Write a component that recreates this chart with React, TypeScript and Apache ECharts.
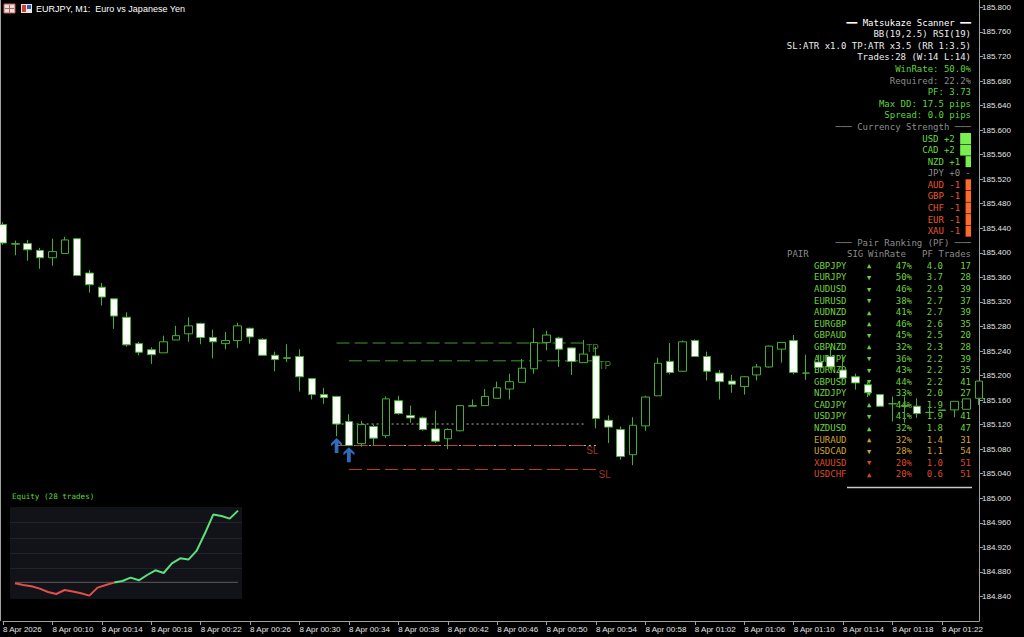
import React, { useEffect, useRef } from 'react';
import * as echarts from 'echarts';

// ---------- data ----------
const TIME_LABELS = [
  '00:06','00:07','00:08','00:09','00:10','00:11','00:12','00:13','00:14','00:15',
  '00:16','00:17','00:18','00:19','00:20','00:21','00:22','00:23','00:24','00:25',
  '00:26','00:27','00:28','00:29','00:30','00:31','00:32','00:33','00:34','00:35',
  '00:36','00:37','00:38','00:39','00:40','00:41','00:42','00:43','00:44','00:45',
  '00:46','00:47','00:48','00:49','00:50','00:51','00:52','00:53','00:54','00:55',
  '00:56','00:57','00:58','00:59','01:00','01:01','01:02','01:03','01:04','01:05',
  '01:06','01:07','01:08','01:09','01:10','01:11','01:12','01:13','01:14','01:15',
  '01:16','01:17','01:18','01:19','01:20','01:21','01:22','01:23','01:24','01:25',
];

const OPEN = [
  185.446,185.414,185.415,185.404,185.392,185.399,185.423,185.367,185.344,185.325,
  185.295,185.252,185.242,185.237,185.258,185.268,185.285,185.262,185.252,185.257,
  185.277,185.259,185.233,185.228,185.231,185.195,185.169,185.166,185.125,185.089,
  185.117,185.102,185.159,185.135,185.131,185.113,185.097,185.110,185.150,185.151,
  185.163,185.178,185.189,185.211,185.254,185.261,185.245,185.221,185.232,185.127,
  185.112,185.071,185.118,185.167,185.223,185.207,185.257,185.231,185.204,185.191,
  185.182,185.201,185.214,185.243,185.257,185.204,185.222,185.231,185.209,185.198,
  185.185,185.169,185.154,185.151,185.150,185.140,185.143,185.144,185.145,185.163,
];
const CLOSE = [
  185.416,185.415,185.405,185.392,185.402,185.421,185.363,185.348,185.328,185.297,
  185.250,185.238,185.234,185.255,185.265,185.281,185.262,185.255,185.257,185.281,
  185.263,185.233,185.226,185.229,185.198,185.169,185.164,185.121,185.086,185.120,
  185.098,185.162,185.138,185.131,185.112,185.093,185.112,185.151,185.151,185.166,
  185.180,185.190,185.212,185.254,185.266,185.243,185.223,185.235,185.130,185.116,
  185.068,185.119,185.165,185.220,185.205,185.255,185.231,185.207,185.190,185.186,
  185.198,185.214,185.248,185.254,185.205,185.204,185.213,185.214,185.196,185.188,
  185.172,185.150,185.154,185.150,185.138,185.140,185.144,185.158,185.162,185.191,
];
const LOW = [
  185.413,185.396,185.387,185.374,185.379,185.399,185.362,185.335,185.314,185.276,
  185.247,185.233,185.219,185.237,185.258,185.255,185.251,185.228,185.243,185.245,
  185.252,185.232,185.207,185.222,185.174,185.161,185.154,185.101,185.085,185.084,
  185.086,185.098,185.136,185.123,185.110,185.090,185.080,185.109,185.150,185.151,
  185.163,185.161,185.189,185.203,185.241,185.214,185.201,185.221,185.114,185.090,
  185.063,185.054,185.110,185.167,185.202,185.206,185.231,185.192,185.161,185.172,
  185.169,185.192,185.213,185.221,185.202,185.193,185.206,185.209,185.190,185.177,
  185.165,185.149,185.125,185.123,185.131,185.133,185.143,185.132,185.145,185.152,
];
const HIGH = [
  185.450,185.420,185.421,185.408,185.423,185.426,185.424,185.372,185.351,185.325,
  185.303,185.255,185.246,185.265,185.281,185.295,185.286,185.275,185.271,185.286,
  185.278,185.261,185.239,185.251,185.243,185.196,185.180,185.167,185.137,185.126,
  185.120,185.166,185.167,185.151,185.133,185.143,185.114,185.152,185.161,185.178,
  185.190,185.203,185.227,185.277,185.273,185.263,185.246,185.258,185.247,185.135,
  185.117,185.132,185.167,185.229,185.253,185.257,185.259,185.239,185.209,185.201,
  185.199,185.219,185.249,185.254,185.266,185.234,185.234,185.247,185.234,185.203,
  185.190,185.170,185.166,185.166,185.163,185.150,185.144,185.158,185.162,185.191,
];

const PRICE_MIN = 184.8;
const PRICE_MAX = 185.812;
const PRICE_STEP = 0.04;

const SIGNAL_BARS = [27, 28];
const SIGNAL_PRICES = [185.086, 185.071];

const LEVEL_KIND = ['TP', 'TP', 'ENTRY', 'SL', 'ENTRY', 'SL'];
const LEVEL_PRICE = [185.253, 185.224, 185.121, 185.086, 185.086, 185.047];
const LEVEL_FROM = [27, 28, 27, 27, 28, 28];
const LEVEL_TO = [47, 48, 47, 47, 48, 48];

const EQUITY = [
  -1, -2.7, -4, -6.3, -9.7, -11.7, -7.7, -9.3, -11, -13.3,
  -5.3, -2.7, -0.3, 1.3, 4.7, 2, 7.3, 12, 9.3, 19,
  24, 22.7, 31.7, 49, 67.7, 66.3, 63.7, 71.7,
];
const EQUITY_RED_UNTIL = 12; // last index of the under-water (red) part

const STATS_LINES = [
  '━━ Matsukaze Scanner ━━',
  'BB(19,2.5) RSI(19)',
  'SL:ATR x1.0 TP:ATR x3.5 (RR 1:3.5)',
  'Trades:28 (W:14 L:14)',
  'WinRate: 50.0%',
  'Required: 22.2%',
  'PF: 3.73',
  'Max DD: 17.5 pips',
  'Spread: 0.0 pips',
  '─── Currency Strength ───',
];
const STATS_KIND = ['head', 'info', 'info', 'info', 'good', 'muted', 'good', 'good', 'good', 'muted'];

const CURRENCIES = ['USD', 'CAD', 'NZD', 'JPY', 'AUD', 'GBP', 'CHF', 'EUR', 'XAU'];
const STRENGTH = [2, 2, 1, 0, -1, -1, -1, -1, -1];

const RANK_TITLE = '─── Pair Ranking (PF) ───';
const RANK_HEADERS = ['PAIR', 'SIG', 'WinRate', 'PF', 'Trades'];
const PAIRS = ['GBPJPY','EURJPY','AUDUSD','EURUSD','AUDNZD','EURGBP','GBPAUD','GBPNZD','AUDJPY','EURNZD',
  'GBPUSD','NZDJPY','CADJPY','USDJPY','NZDUSD','EURAUD','USDCAD','XAUUSD','USDCHF'];
const PAIR_SIG = ['up','down','down','down','up','up','down','up','down','down',
  'down','down','up','down','up','up','down','down','up'];
const PAIR_WR = [47, 50, 46, 38, 41, 46, 45, 32, 36, 43, 44, 33, 44, 41, 32, 32, 28, 20, 20];
const PAIR_PF = [4.0, 3.7, 2.9, 2.7, 2.7, 2.6, 2.5, 2.3, 2.2, 2.2, 2.2, 2.0, 1.9, 1.9, 1.8, 1.4, 1.1, 1.0, 0.6];
const PAIR_TRADES = [17, 28, 39, 37, 39, 35, 20, 28, 39, 35, 41, 27, 18, 41, 47, 31, 54, 51, 51];

// ---------- styles ----------
const CANDLE_GREEN = '#45b030';
const MONO = '"DejaVu Sans Mono", monospace';
const SANS = '"Liberation Sans", Arial, sans-serif';
const C_GOOD = '#5cd43a';
const C_ROW = '#6fd23a';
const C_GOLD = '#d2a22c';
const C_RED = '#dd4a24';
const C_MUTED = '#8c8c8c';
const C_INFO = '#ececec';
const ARROW = 'path://M5,0 L10,5 L10,7.6 L6.7,4.7 L6.7,14 L3.3,14 L3.3,4.7 L0,7.6 L0,5 Z';

const rowY = (k: number) => 22.7 + 11.58 * k;
const CH = 5.42;

function txt(x: number, y: number, text: string, fill: string, align = 'right', font = `9px ${MONO}`) {
  return {
    type: 'text', x, y, silent: true,
    style: { text, fill, font, textAlign: align, textVerticalAlign: 'middle' },
  };
}

function buildGraphics() {
  const g: any[] = [];
  g.push({ type: 'line', silent: true, shape: { x1: 0.5, y1: 0, x2: 0.5, y2: 621 }, style: { stroke: '#a0a0a0', lineWidth: 1 } });
  g.push({ type: 'rect', silent: true, shape: { x: 4, y: 4, width: 11, height: 9 }, style: { fill: '#d9e4f2', stroke: '#d65a3c', lineWidth: 1 } });
  g.push({ type: 'rect', silent: true, shape: { x: 5, y: 8, width: 9, height: 1 }, style: { fill: '#d65a3c' } });
  g.push({ type: 'rect', silent: true, shape: { x: 9, y: 5, width: 1, height: 8 }, style: { fill: '#d65a3c' } });
  g.push({ type: 'rect', silent: true, shape: { x: 21, y: 4, width: 11, height: 9 }, style: { fill: '#e8e8e8' } });
  g.push({ type: 'rect', silent: true, shape: { x: 22, y: 5, width: 4, height: 7 }, style: { fill: '#d83a30' } });
  g.push({ type: 'rect', silent: true, shape: { x: 27, y: 5, width: 4, height: 4 }, style: { fill: '#2f5fb0' } });
  g.push(txt(36, 8.5, 'EURJPY, M1:  Euro vs Japanese Yen', '#ffffff', 'left', `9px ${SANS}`));

  STATS_LINES.forEach((s, k) => {
    const kind = STATS_KIND[k];
    const color = kind === 'head' ? '#ffffff' : kind === 'info' ? C_INFO : kind === 'good' ? C_GOOD : C_MUTED;
    g.push(txt(971, rowY(k), s, color));
  });

  CURRENCIES.forEach((c, i) => {
    const s = STRENGTH[i];
    const y = rowY(10 + i);
    const n = Math.abs(s);
    const color = s > 0 ? '#66dd33' : s < 0 ? '#e8582c' : C_MUTED;
    const label = `${c} ${s < 0 ? '-' : '+'}${n}`;
    const cells = Math.max(n, 1);
    g.push(txt(971 - (cells + 1) * CH, y, label, color));
    if (n > 0) {
      g.push({
        type: 'rect', silent: true,
        shape: { x: 971 - n * CH, y: y - 5.5, width: n * CH, height: 11 },
        style: { fill: s > 0 ? '#78ee50' : '#ff6a2c' },
      });
    } else {
      g.push(txt(968, y, '-', C_MUTED, 'center'));
    }
  });

  g.push(txt(971, rowY(19), RANK_TITLE, C_MUTED));
  const hy = rowY(20);
  g.push(txt(787, hy, RANK_HEADERS[0], C_MUTED, 'left'));
  g.push(txt(847, hy, RANK_HEADERS[1], C_MUTED, 'left'));
  g.push(txt(868, hy, RANK_HEADERS[2], C_MUTED, 'left'));
  g.push(txt(922, hy, RANK_HEADERS[3], C_MUTED, 'left'));
  g.push(txt(971, hy, RANK_HEADERS[4], C_MUTED, 'right'));
  PAIRS.forEach((p, r) => {
    const y = rowY(21 + r);
    const pf = PAIR_PF[r];
    const color = pf >= 1.5 ? C_ROW : pf > 1.0 ? C_GOLD : C_RED;
    g.push(txt(814, y, p, color, 'left'));
    g.push(txt(869, y + 0.5, PAIR_SIG[r] === 'up' ? '▲' : '▼', color, 'center', `7px ${MONO}`));
    g.push(txt(912, y, `${PAIR_WR[r]}%`, color, 'right'));
    g.push(txt(943, y, pf.toFixed(1), color, 'right'));
    g.push(txt(971, y, String(PAIR_TRADES[r]), color, 'right'));
  });
  g.push({ type: 'line', silent: true, shape: { x1: 847, y1: 487.5, x2: 972, y2: 487.5 }, style: { stroke: '#c8c8c8', lineWidth: 1.5 } });

  g.push(txt(12, 496, 'Equity (28 trades)', C_GOOD, 'left', `7.6px ${MONO}`));
  g.push({ type: 'rect', silent: true, shape: { x: 10, y: 507, width: 232, height: 92 }, style: { fill: '#121219' } });
  [1, 2, 3, 4].forEach((k) => {
    const y = Math.round(507 + (92 * k) / 6) + 0.5;
    g.push({ type: 'line', silent: true, shape: { x1: 10, y1: y, x2: 242, y2: y }, style: { stroke: '#22222a', lineWidth: 1 } });
  });
  return g;
}

export default function App() {
  const ref = useRef<HTMLDivElement>(null);

  useEffect(() => {
    if (!ref.current) return;
    const chart = echarts.init(ref.current, undefined, { renderer: 'svg' });

    const candleData = OPEN.map((o, i) => [o, CLOSE[i], LOW[i], HIGH[i]]);
    const levelSeries = LEVEL_PRICE.map((p, i) => {
      const kind = LEVEL_KIND[i];
      const color = kind === 'TP' ? '#3f9a30' : kind === 'SL' ? '#c0452c' : '#b4b4b4';
      const dash = kind === 'ENTRY' ? [2, 3] : [13, 5];
      return {
        type: 'line', xAxisIndex: 0, yAxisIndex: 0, silent: true, z: kind === 'ENTRY' ? 3 : 4,
        data: [[LEVEL_FROM[i], p], [LEVEL_TO[i], p]],
        symbol: 'none',
        lineStyle: { color, width: 1, type: dash },
      };
    });
    const levelLabels = LEVEL_PRICE.map((p, i) => ({ p, i })).filter((d) => LEVEL_KIND[d.i] !== 'ENTRY').map((d) => ({
      value: [LEVEL_TO[d.i], d.p],
      label: { formatter: LEVEL_KIND[d.i], color: LEVEL_KIND[d.i] === 'TP' ? '#4aa23a' : '#c4462c' },
    }));
    const eqPoints = EQUITY.map((v, i) => [i, v]);

    chart.setOption({
      animation: false,
      backgroundColor: '#000000',
      graphic: { elements: buildGraphics() },
      grid: [
        { left: 1, top: 0, width: 978, height: 621 },
        { left: 15, top: 507, width: 223, height: 92 },
      ],
      xAxis: [
        {
          type: 'category', gridIndex: 0, data: TIME_LABELS, boundaryGap: false,
          axisLine: { show: true, lineStyle: { color: '#a0a0a0', width: 1 } },
          axisTick: { show: true, length: 4, inside: false, interval: (i: number) => i % 4 === 0, lineStyle: { color: '#a0a0a0' } },
          axisLabel: {
            interval: (i: number) => i % 4 === 0,
            formatter: (v: string, i: number) => (i === 0 ? '8 Apr 2026' : `8 Apr ${v}`),
            color: '#e4e4e4', fontSize: 8, fontFamily: SANS, align: 'left', margin: 4,
          },
          splitLine: { show: false },
        },
        { type: 'value', gridIndex: 1, min: 0, max: EQUITY.length - 1, show: false, splitLine: { show: false } },
      ],
      yAxis: [
        {
          type: 'value', gridIndex: 0, position: 'right', min: PRICE_MIN, max: PRICE_MAX, interval: PRICE_STEP,
          axisLine: { show: true, lineStyle: { color: '#a0a0a0', width: 1 } },
          axisTick: { show: true, length: 4, inside: false, lineStyle: { color: '#a0a0a0' } },
          axisLabel: {
            formatter: (v: number) => v.toFixed(3), color: '#e4e4e4', fontSize: 8, fontFamily: SANS,
            margin: 3, showMinLabel: false, showMaxLabel: false,
          },
          splitLine: { show: false },
        },
        { type: 'value', gridIndex: 1, min: -16.7, max: 75.3, show: false, splitLine: { show: false } },
      ],
      series: [
        {
          type: 'candlestick', xAxisIndex: 0, yAxisIndex: 0, data: candleData, barWidth: 8, z: 5,
          itemStyle: { color: '#000000', color0: '#ffffff', borderColor: CANDLE_GREEN, borderColor0: CANDLE_GREEN, borderWidth: 1 },
        },
        {
          type: 'line', xAxisIndex: 1, yAxisIndex: 1, silent: true, z: 4,
          data: [[0, 0], [EQUITY.length - 1, 0]], symbol: 'none',
          lineStyle: { color: '#5c5c5c', width: 1 },
        },
        {
          type: 'line', xAxisIndex: 1, yAxisIndex: 1, silent: true, z: 6,
          data: eqPoints.slice(0, EQUITY_RED_UNTIL + 1), symbol: 'none',
          lineStyle: { color: '#e0504a', width: 2 },
        },
        {
          type: 'line', xAxisIndex: 1, yAxisIndex: 1, silent: true, z: 6,
          data: eqPoints.slice(EQUITY_RED_UNTIL), symbol: 'none',
          lineStyle: { color: '#5ee07c', width: 2 },
        },
        ...levelSeries,
        {
          type: 'scatter', xAxisIndex: 0, yAxisIndex: 0, silent: true, z: 7,
          data: SIGNAL_BARS.map((b, i) => [b, SIGNAL_PRICES[i]]),
          symbol: ARROW, symbolSize: [11, 15], itemStyle: { color: '#3a88ee' },
        },
        {
          type: 'scatter', xAxisIndex: 0, yAxisIndex: 0, silent: true, z: 7,
          data: levelLabels, symbolSize: 1, itemStyle: { color: 'rgba(0,0,0,0)' },
          label: { show: true, position: 'right', distance: 2, offset: [0, 5], fontSize: 10, fontFamily: SANS },
        },
      ],
    });

    return () => chart.dispose();
  }, []);

  return (
    <div
      ref={ref}
      style={{ position: 'fixed', left: 0, top: 0, width: 1024, height: 637, background: '#000' }}
    />
  );
}
